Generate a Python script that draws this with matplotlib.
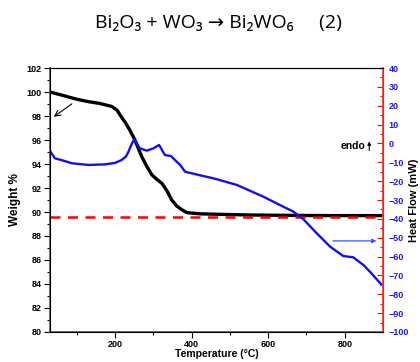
import matplotlib
matplotlib.use('Agg')
import matplotlib.pyplot as plt

plt.rcParams['font.family'] = ['Liberation Sans', 'DejaVu Sans']

# TGA (weight %)
temp_tga = [30, 60, 100, 130, 160, 191, 205, 217, 228, 239, 252, 262, 270, 283, 296, 310,
            322, 335, 348, 361, 374, 387, 420, 480, 553, 650, 750, 850, 895]
weight = [100.0, 99.75, 99.4, 99.2, 99.05, 98.8, 98.5, 97.9, 97.4, 96.8, 96.0, 95.2, 94.6,
          93.8, 93.1, 92.7, 92.4, 91.8, 91.0, 90.5, 90.2, 89.95, 89.85, 89.8, 89.75, 89.72,
          89.7, 89.7, 89.7]

# DSC (heat flow, mW)
temp_dsc = [30, 43, 60, 87, 130, 174, 200, 217, 228, 235, 243, 250, 257, 265, 283, 300, 315,
            330, 346, 361, 370, 383, 420, 457, 518, 587, 631, 666, 692, 727, 762, 796, 822,
            849, 870, 895]
heat_flow = [-4.0, -7.9, -8.8, -10.5, -11.4, -11.1, -10.3, -8.8, -7.0, -4.4, -0.5, 2.2, 0.0,
             -2.6, -3.8, -2.6, -0.8, -6.1, -6.7, -9.7, -11.4, -15.0, -16.8, -18.5, -22.0,
             -28.2, -32.7, -36.2, -40.2, -47.7, -54.8, -59.7, -60.4, -64.5, -69.0, -74.7]

baseline = 89.6

fig = plt.figure(figsize=(4.2, 3.62), dpi=100)
ax = fig.add_axes([0.119, 0.083, 0.793, 0.729])

ax.plot(temp_tga, weight, color='black', linewidth=2.4, solid_capstyle='round')
ax.axhline(baseline, color='red', linewidth=1.8, linestyle=(0, (4, 3)), zorder=5)
ax.annotate('', xy=(34, 97.8), xytext=(93, 99.15),
            arrowprops=dict(arrowstyle='->', color='black', lw=0.8))

ax.set_xlim(30, 900)
ax.set_ylim(80, 102)
ax.set_xticks([200, 400, 600, 800])
ax.set_xticks(range(100, 900, 100), minor=True)
ax.set_yticks(range(80, 103, 2))
ax.set_yticks(range(81, 102, 2), minor=True)
ax.tick_params(axis='both', which='major', labelsize=6.5, length=4, width=0.8, pad=2)
ax.tick_params(axis='both', which='minor', length=2, width=0.8)
for lbl in ax.get_xticklabels() + ax.get_yticklabels():
    lbl.set_fontweight('bold')
ax.set_xlabel('Temperature (°C)', fontsize=7.5, fontweight='bold', labelpad=0)
ax.set_ylabel('Weight %', fontsize=8.5, fontweight='bold', labelpad=4)
ax.spines['left'].set_color('#555555')
ax.spines['bottom'].set_color('#555555')
ax.spines['left'].set_linewidth(1.2)
ax.spines['bottom'].set_linewidth(1.2)

ax2 = ax.twinx()
ax2.plot(temp_dsc, heat_flow, color='#1010ee', linewidth=1.7)
ax2.annotate('', xy=(890, -51.7), xytext=(762, -51.7),
             arrowprops=dict(arrowstyle='-|>', color='#3355ff', lw=0.9, mutation_scale=6))
ax2.annotate('', xy=(864, 2.6), xytext=(864, -5.2),
             arrowprops=dict(arrowstyle='-|>', color='black', lw=0.8, mutation_scale=5))
ax2.text(855, -1.4, 'endo', fontsize=7.5, fontweight='bold', ha='right', va='center')
ax2.set_ylim(-100, 40)
ax2.set_yticks(range(-100, 41, 10))
ax2.set_yticks(range(-95, 40, 10), minor=True)
ax2.tick_params(axis='y', which='major', colors='red', labelcolor='#1a1aff',
                labelsize=6.5, length=4, direction='in', width=0.8, pad=4)
ax2.tick_params(axis='y', which='minor', colors='red', length=2, direction='in', width=0.8)
for lbl in ax2.get_yticklabels():
    lbl.set_fontweight('bold')
ax2.spines['right'].set_color('#ff3333')
ax2.spines['right'].set_linewidth(1.2)
ax2.set_ylabel('Heat Flow (mW)', fontsize=8, fontweight='bold', labelpad=0)

fig.text(0.52, 0.936, 'Bi₂O₃ + WO₃ → Bi₂WO₆     (2)', fontsize=14, ha='center', va='center',
         family=['Open Sans', 'DejaVu Sans'])

fig.savefig('out.png', dpi=100)
